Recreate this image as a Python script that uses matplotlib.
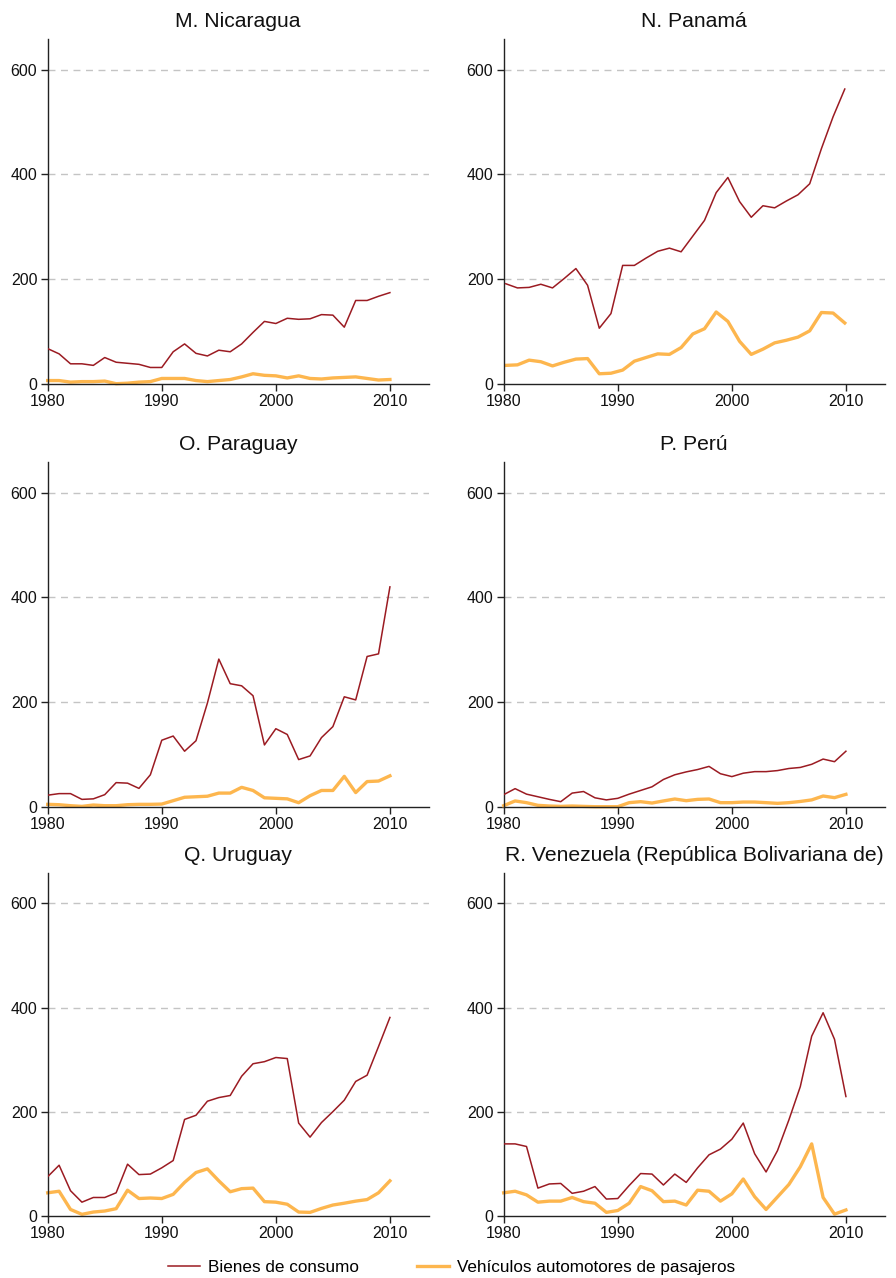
import numpy as np
import matplotlib
matplotlib.use("Agg")
import matplotlib.pyplot as plt

plt.rcParams['font.family'] = ['Liberation Sans', 'DejaVu Sans']

years = list(range(1980, 2011))
# Panama series has 30 observations spread over the period
years_pan = list(np.linspace(1980.18, 2009.9, 30))

titles = ["M. Nicaragua", "N. Panamá", "O. Paraguay", "P. Perú",
          "Q. Uruguay", "R. Venezuela (República Bolivariana de)"]
series_names = ["Bienes de consumo", "Vehículos automotores de pasajeros"]

nic_bienes = [67, 57, 38, 38, 35, 50, 41, 39, 37, 31, 31, 61, 76, 58, 53, 64, 61, 76,
              98, 119, 115, 125, 123, 124, 132, 131, 108, 159, 159, 167, 174]
nic_veh = [6, 6, 3, 4, 4, 5, 0, 1, 3, 4, 10, 10, 10, 6, 4, 6, 8, 13, 19, 16, 15, 11,
           15, 10, 9, 11, 12, 13, 10, 7, 8]

pan_bienes = [191, 183, 184, 190, 183, 201, 220, 188, 106, 134, 226, 226, 240, 253,
              259, 252, 282, 312, 365, 394, 348, 318, 340, 336, 349, 361, 382, 449,
              510, 563]
pan_veh = [35, 36, 45, 42, 34, 41, 47, 48, 19, 20, 26, 43, 50, 57, 56, 69, 95, 105,
           137, 119, 81, 56, 66, 78, 83, 89, 101, 136, 135, 116]

par_bienes = [22, 25, 25, 14, 15, 23, 46, 45, 35, 61, 127, 135, 106, 126, 198, 282,
              235, 231, 212, 118, 149, 138, 90, 97, 132, 153, 210, 204, 287, 292, 420]
par_veh = [4.5, 3.8, 1.9, 0.6, 3.2, 1.9, 1.9, 3.8, 4.5, 4.5, 5, 11.5, 18, 19, 20, 26,
           26, 37, 31, 17, 16, 15, 7.6, 21, 31, 31, 58, 27, 48, 49, 59]

per_bienes = [23, 34.5, 24, 19, 14, 9.6, 26, 29, 17, 13, 16, 24, 31, 38, 52, 61, 66.5,
              71, 77, 63, 57.5, 64, 67, 67, 69, 73, 75, 81, 91, 86, 106]
per_veh = [2, 11, 7.7, 2.6, 1.3, 0.6, 1.3, 0.6, 0, 0, 0, 7.7, 9.6, 7, 11, 14.7, 11.5,
           14, 14.7, 7.7, 7.7, 8.9, 8.9, 7.7, 6.4, 7.7, 10, 13, 20.4, 17.3, 23.6]

uru_bienes = [75, 97, 48, 26, 35, 35, 44, 99, 79, 80, 92, 106, 185, 193, 220, 227,
              231, 268, 292, 296, 304, 302, 178, 151, 179, 200, 222, 258, 270, 325, 381]
uru_veh = [44, 47, 12, 2.6, 7, 9, 13.5, 49, 33, 34, 33, 41, 64, 83, 90, 67, 46, 52,
           53, 27, 26, 22, 7, 6.4, 14, 20.5, 24, 28, 31, 44, 67]

ven_bienes = [138, 138, 133, 53, 61, 62, 43, 47, 56, 32, 33, 58, 81, 80, 59, 80, 64,
              92, 117, 128, 147, 178, 119, 84, 125, 184, 248, 345, 390, 339, 229]
ven_veh = [44, 47, 40, 26, 28, 28, 35, 27, 24, 6.4, 10, 24, 56, 48, 27, 28, 20.5, 49,
           47, 28, 42, 70.5, 36.5, 12, 36, 60, 94, 138, 35, 3, 11]

panels = [
    (years, nic_bienes, nic_veh),
    (years_pan, pan_bienes, pan_veh),
    (years, par_bienes, par_veh),
    (years, per_bienes, per_veh),
    (years, uru_bienes, uru_veh),
    (years, ven_bienes, ven_veh),
]

red = "#9B1B22"
orange = "#FDB64E"

fig = plt.figure(figsize=(8.96, 12.78), dpi=100)

W, H = 896, 1278
col_left = [47.7, 503.7]
col_w = 381
row_top = [39.3, 462.3, 873.3]
row_bot = [383.7, 806.7, 1215.7]

handles = None
for i, (x, b, v) in enumerate(panels):
    r, c = divmod(i, 2)
    left = col_left[c] / W
    bottom = 1 - row_bot[r] / H
    height = (row_bot[r] - row_top[r]) / H
    ax = fig.add_axes([left, bottom, col_w / W, height])
    for yv in [200, 400, 600]:
        ax.axhline(yv, color="#C4C4C4", lw=1.0, ls=(0, (5, 4)), zorder=0)
    l1, = ax.plot(x, b, color=red, lw=1.1, label=series_names[0], zorder=3)
    l2, = ax.plot(x, v, color=orange, lw=2.4, label=series_names[1], zorder=2,
                  solid_joinstyle="round", clip_on=False)
    handles = [l1, l2]
    ax.set_xlim(1980, 2013.4)
    ax.set_ylim(0, 658)
    ax.set_xticks([1980, 1990, 2000, 2010])
    ax.set_yticks([0, 200, 400, 600])
    ax.spines["top"].set_visible(False)
    ax.spines["right"].set_visible(False)
    for s in ["left", "bottom"]:
        ax.spines[s].set_color("#222222")
        ax.spines[s].set_linewidth(1.0)
    ax.tick_params(axis="both", labelsize=11.5, length=5, width=1.0,
                   color="#222222", pad=2.5, labelcolor="#111111")
    ax.set_title(titles[i], fontsize=15.2, pad=9, color="#111111")

fig.legend(handles, series_names, loc="lower center", ncol=2, frameon=False,
           fontsize=12.3, bbox_to_anchor=(0.504, -0.010), handlelength=1.9,
           handletextpad=0.45, columnspacing=3.4)

fig.savefig("out.png", dpi=100)
